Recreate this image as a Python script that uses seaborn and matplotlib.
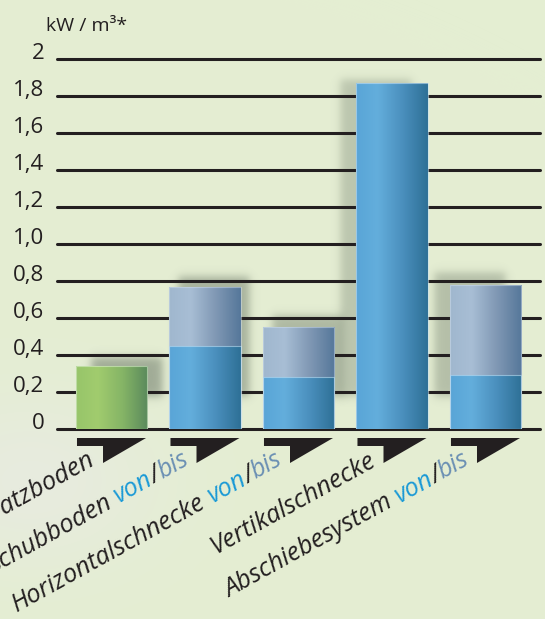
import numpy as np
import pandas as pd
import matplotlib
matplotlib.use("Agg")
import matplotlib.pyplot as plt
import matplotlib.colors as mcolors
from matplotlib import transforms
from matplotlib.font_manager import FontProperties
import seaborn as sns

# ---------------- data ----------------
categories = ["Kratzboden", "Schubboden", "Horizontalschnecke",
              "Vertikalschnecke", "Abschiebesystem"]
von_values = [0.34, 0.45, 0.28, 1.87, 0.29]
bis_values = [np.nan, 0.77, 0.55, np.nan, 0.78]
y_ticks = [0, 0.2, 0.4, 0.6, 0.8, 1.0, 1.2, 1.4, 1.6, 1.8, 2.0]
y_tick_labels = ["0", "0,2", "0,4", "0,6", "0,8", "1,0", "1,2", "1,4", "1,6", "1,8", "2"]
unit_label = "kW / m³*"
range_words = ["von", "/", "bis"]

# ---------------- style ----------------
sns.set_theme(style="white")
FAM = ["Open Sans", "DejaVu Sans"]
plt.rcParams["font.family"] = FAM

W, H = 545, 619
BG = "#e4eed2"
DARK = "#231f20"
VON_C = "#1b9ad6"
BIS_C = "#6a8fb3"
GREEN = ["#97c56a", "#a1cc6e", "#85b466", "#5a8a5c"]
BLUE = ["#59a5d7", "#63aedc", "#4a8fbd", "#2e7096"]
LIGHT = ["#a0b7ce", "#a8bed5", "#8098b4", "#55779a"]

fig = plt.figure(figsize=(W / 100, H / 100), dpi=100)
fig.patch.set_facecolor(BG)

# soft background (faint greyish streak lower left)
bgax = fig.add_axes([0, 0, 1, 1], zorder=-10)
yy, xx = np.mgrid[0:H, 0:W]
base = np.array(mcolors.to_rgb(BG))
tint = np.array(mcolors.to_rgb("#e8ebe0"))
blob = np.exp(-(((xx - 30) / 130.0) ** 2 + ((yy - 480) / 90.0) ** 2))
img = base[None, None, :] * (1 - blob[..., None] * 0.9) + tint[None, None, :] * (blob[..., None] * 0.9)
bgax.imshow(img, extent=[0, W, H, 0], aspect="auto")
bgax.set_axis_off()

ax = fig.add_axes([57 / W, 1 - 429 / H, 483 / W, 370 / H])
ax.patch.set_alpha(0)

# gridlines
for t in y_ticks:
    ax.axhline(t, color=DARK, lw=2.2, zorder=1, clip_on=False)

# bars
df_bis = pd.DataFrame({"cat": categories, "val": bis_values}).dropna()
sns.barplot(data=df_bis, x="cat", y="val", order=categories, width=0.76,
            ax=ax, color=LIGHT[0], zorder=3)
n_bis = len(ax.patches)
df_von = pd.DataFrame({"cat": categories, "val": von_values})
sns.barplot(data=df_von, x="cat", y="val", order=categories, width=0.76,
            ax=ax, color=BLUE[0], zorder=3)
patches = list(ax.patches)
bis_patches = patches[:n_bis]
von_patches = patches[n_bis:]

XL = (-0.583, 4.583)
YL = (0, 2)
PX_X = 483 / (XL[1] - XL[0])
PX_Y = 370 / (YL[1] - YL[0])


def grad_fill(p, stops, z):
    x0, y0 = p.get_x(), p.get_y()
    w, h = p.get_width(), p.get_height()
    cmap = mcolors.LinearSegmentedColormap.from_list(
        "g", list(zip([0, 0.3, 0.65, 1.0], stops)))
    im = ax.imshow(np.linspace(0, 1, 256)[None, :], cmap=cmap,
                   extent=[x0, x0 + w, y0, y0 + h], aspect="auto",
                   zorder=z, interpolation="bilinear")
    im.set_clip_path(p)
    p.set_facecolor("none")


def soft_shadow(x0, x1, y0, y1, z=0.5, sig=5.0, amax=0.42):
    m = 3 * sig
    ex = [x0 - m / PX_X, x1 + m / PX_X, y0 - m / PX_Y, y1 + m / PX_Y]
    nx = int((ex[1] - ex[0]) * PX_X)
    ny = int((ex[3] - ex[2]) * PX_Y)
    gx = np.linspace(ex[0], ex[1], nx) * PX_X
    gy = np.linspace(ex[3], ex[2], ny) * PX_Y

    def s(g, a, b):
        return 1 / (1 + np.exp(-(g - a) / (sig / 2))) * 1 / (1 + np.exp((g - b) / (sig / 2)))

    al = s(gy, y0 * PX_Y, y1 * PX_Y)[:, None] * s(gx, x0 * PX_X, x1 * PX_X)[None, :]
    rgba = np.zeros((ny, nx, 4))
    rgba[..., :3] = mcolors.to_rgb("#5d6a5a")
    rgba[..., 3] = al * amax
    ax.imshow(rgba, extent=ex, aspect="auto", zorder=z, interpolation="bilinear")


shadow_dx = [15, 9, 9, -16, -16]
shadow_dy = [9, 10, 12, 4, 12]
shadow_a = [0.5, 0.45, 0.4, 0.3, 0.35]
for i, p in enumerate(von_patches):
    top = von_values[i] if np.isnan(bis_values[i]) else bis_values[i]
    x0 = p.get_x() + shadow_dx[i] / PX_X
    x1 = x0 + p.get_width()
    soft_shadow(x0, x1, 32 / PX_Y, top + shadow_dy[i] / PX_Y, amax=shadow_a[i])

for p in bis_patches:
    grad_fill(p, LIGHT, 2.8)
    p.set_edgecolor((0.82, 0.87, 0.92, 0.5))
    p.set_linewidth(0.8)
for i, p in enumerate(von_patches):
    grad_fill(p, GREEN if i == 0 else BLUE, 2.9)
    p.set_edgecolor((0.78, 0.88, 0.95, 0.6) if i else (0.85, 0.93, 0.8, 0.6))
    p.set_linewidth(0.8)

# pedestals under each bar
bw = 0.76
for i in range(len(categories)):
    xl = i - bw / 2 + 1 / PX_X
    xr = i + bw / 2 - 1 / PX_X
    xv = i - 8.5 / PX_X
    ytop, ystrip, ytip = -9 / PX_Y, -17 / PX_Y, -34 / PX_Y
    ax.fill([xl, xr, xv, xv, xl], [ytop, ytop, ytip, ystrip, ystrip],
            color=DARK, lw=0, zorder=3, clip_on=False)

ax.set_xlim(*XL)
ax.set_ylim(*YL)
ax.set_xticks([])
ax.set_xlabel("")
ax.set_ylabel("")
ax.set_yticks(y_ticks)
ax.set_yticklabels(y_tick_labels, fontsize=16, color=DARK)
for lab in ax.get_yticklabels():
    lab.set_va("baseline")
ax.tick_params(axis="y", length=0, pad=9)
for sp in ax.spines.values():
    sp.set_visible(False)

fig.text(46 / W, 1 - 31 / H, unit_label, ha="left", va="baseline",
         fontsize=14, color=DARK)

# category labels (rotated, multi-coloured)
renderer = fig.canvas.get_renderer()


def width_px(s, fp):
    t = fig.text(0, 0, s, fontproperties=fp)
    w = t.get_window_extent(renderer).width
    t.remove()
    return w


fp10 = FontProperties(family=FAM, style="italic", size=10)
lab_size = 10 * 304 / width_px("Horizontalschnecke von/bis", fp10)
fp = FontProperties(family=FAM, style="italic", size=lab_size)
ANG = 29
ca, sa = np.cos(np.radians(ANG)), np.sin(np.radians(ANG))

for i, name in enumerate(categories):
    if np.isnan(bis_values[i]):
        pieces = [(name, DARK)]
        full = name
    else:
        pieces = [(name, DARK), ("von", VON_C), ("/", DARK), ("bis", BIS_C)]
        full = name + " von/bis"
    prefixes = []
    acc = ""
    for k, (txt, c) in enumerate(pieces):
        if k == 1:
            acc += " "
        acc += txt
        prefixes.append(acc)
    wfull = width_px(full, fp)
    anchor = ax.transData.transform((i - 15 / PX_X, -35 / PX_Y))
    for (txt, c), pre in zip(pieces, prefixes):
        d = wfull - width_px(pre, fp)
        px, py = anchor[0] - d * ca, anchor[1] - d * sa
        fig.text(px, py, txt, transform=transforms.IdentityTransform(),
                 fontproperties=fp, color=c, rotation=ANG,
                 rotation_mode="anchor", ha="right", va="baseline")

fig.savefig("out.png", dpi=100, facecolor=fig.get_facecolor())
